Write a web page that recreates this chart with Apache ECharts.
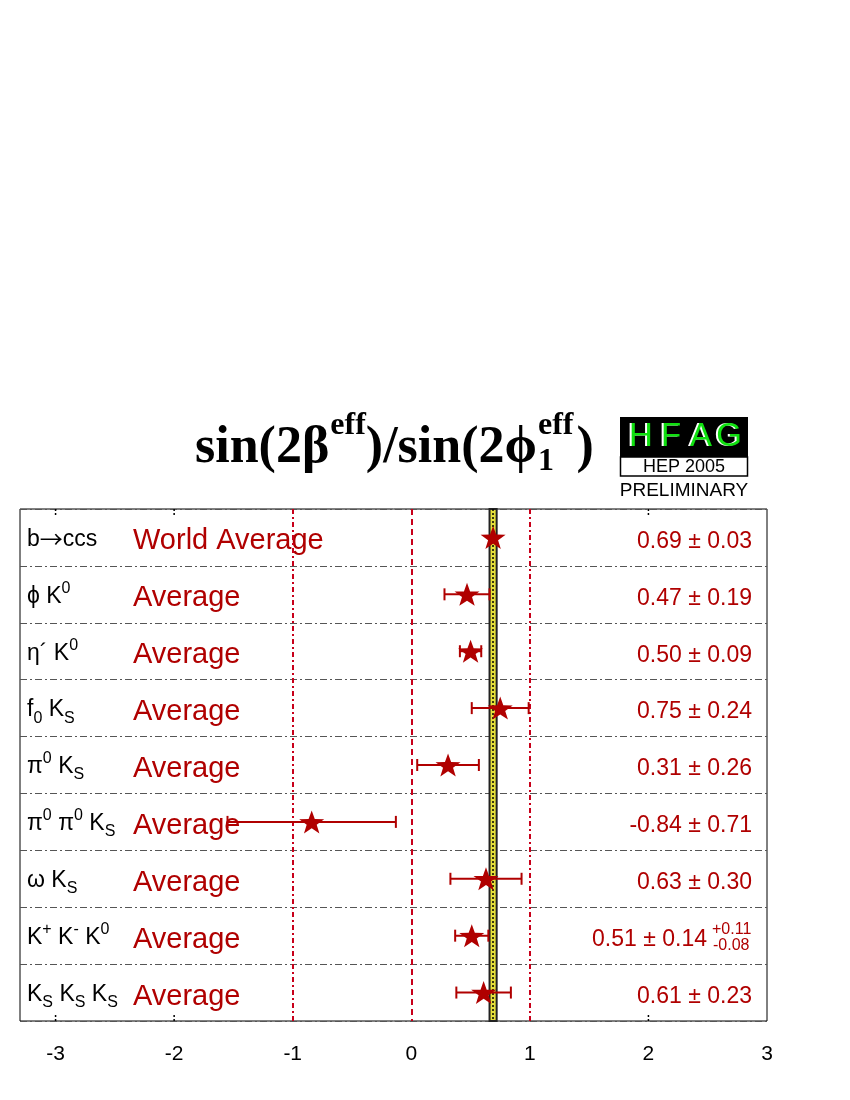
<!DOCTYPE html>
<html lang="en">
<head>
    <meta charset="UTF-8">
    <title>sin(2beta eff) / sin(2phi1 eff)</title>
    <script src="https://cdn.jsdelivr.net/npm/echarts@6.0.0/dist/echarts.min.js"></script>
    <style>
        body { margin: 0; padding: 0; background: #fff; }
        #chart { width: 850px; height: 1100px; }
    </style>
</head>
<body>
    <div id="chart"></div>
    <script>
        // decay modes, rich text tags: n = normal, sup / sub = scripts, arr = arrow
        const modes = [
            '{n|b}{arr|→}{n|ccs}',
            '{n|ϕ K}{sup|0}',
            '{n|η´ K}{sup|0}',
            '{n|f}{sub|0}{n| K}{sub|S}',
            '{n|π}{sup|0}{n| K}{sub|S}',
            '{n|π}{sup|0}{n| π}{sup|0}{n| K}{sub|S}',
            '{n|ω K}{sub|S}',
            '{n|K}{sup|+}{n| K}{sup|-}{n| K}{sup|0}',
            '{n|K}{sub|S}{n| K}{sub|S}{n| K}{sub|S}'
        ];
        const avgNames = ['World Average', 'Average', 'Average', 'Average', 'Average',
                          'Average', 'Average', 'Average', 'Average'];
        const centralValues = [0.69, 0.47, 0.50, 0.75, 0.31, -0.84, 0.63, 0.51, 0.61];
        const statErrors    = [0.03, 0.19, 0.09, 0.24, 0.26, 0.71, 0.30, 0.14, 0.23];
        const systUp   = [null, null, null, null, null, null, null, 0.11, null];
        const systDown = [null, null, null, null, null, null, null, 0.08, null];
        const xTickLabels = [-3, -2, -1, 0, 1, 2, 3];
        const frameTicks = [-3, -2, 2];
        const refLines = [-1, 0, 1];

        const RED = '#b00000';
        const FONT = '"Liberation Sans", Arial, sans-serif';
        const SERIF = '"Liberation Serif", "Times New Roman", serif';

        const worldAvg = centralValues[0];
        const worldErr = statErrors[0];

        // rich styles for the mode labels
        const richMode = {
            n:   { fontSize: 23, lineHeight: 32, fontFamily: FONT, fill: '#000', color: '#000' },
            arr: { fontSize: 23, lineHeight: 32, fontFamily: '"Noto Sans CJK JP", "DejaVu Sans", sans-serif', fill: '#000', color: '#000' },
            sup: { fontSize: 16, lineHeight: 16, verticalAlign: 'top', fontFamily: FONT, fill: '#000', color: '#000' },
            sub: { fontSize: 16, lineHeight: 16, verticalAlign: 'bottom', fontFamily: FONT, fill: '#000', color: '#000' }
        };

        function valueText(i) {
            return centralValues[i].toFixed(2) + ' \u00b1 ' + statErrors[i].toFixed(2);
        }

        function txt(text, x, y, font, fill, align) {
            return { type: 'text', style: { text: text, x: x, y: y, font: font, fill: fill,
                align: align, textAlign: align, verticalAlign: 'middle', textVerticalAlign: 'middle' } };
        }

        function renderTexts(params, api) {
            const i = api.value(0);
            const y = api.coord([0, i + 0.5])[1];
            const cs = params.coordSys;
            const right = cs.x + cs.width;
            const kids = [
                { type: 'text', style: { text: modes[i], x: cs.x + 7, y: y + 2, rich: richMode,
                    align: 'left', textAlign: 'left', verticalAlign: 'middle', textVerticalAlign: 'middle' } },
                txt(avgNames[i], cs.x + 113, y + 4, '29px ' + FONT, RED, 'left')
            ];
            if (systUp[i] != null) {
                kids.push(txt(valueText(i), right - 60, y + 4, '23px ' + FONT, RED, 'right'));
                kids.push(txt('+' + systUp[i].toFixed(2), right - 55, y - 6, '16px ' + FONT, RED, 'left'));
                kids.push(txt('-' + systDown[i].toFixed(2), right - 54, y + 10, '16px ' + FONT, RED, 'left'));
            } else {
                kids.push(txt(valueText(i), right - 15, y + 4, '23px ' + FONT, RED, 'right'));
            }
            return { type: 'group', children: kids };
        }

        function renderErrorBar(params, api) {
            const v = api.value(0), row = api.value(1), e = api.value(2);
            const lo = api.coord([v - e, row]);
            const hi = api.coord([v + e, row]);
            const cap = 6;
            const st = { stroke: RED, lineWidth: 2 };
            return {
                type: 'group',
                children: [
                    { type: 'line', shape: { x1: lo[0], y1: lo[1], x2: hi[0], y2: hi[1] }, style: st },
                    { type: 'line', shape: { x1: lo[0], y1: lo[1] - cap, x2: lo[0], y2: lo[1] + cap }, style: st },
                    { type: 'line', shape: { x1: hi[0], y1: hi[1] - cap, x2: hi[0], y2: hi[1] + cap }, style: st }
                ]
            };
        }

        // small dotted ticks on the top and bottom frame
        function renderFrameTick(params, api) {
            const x = api.coord([api.value(0), 0])[0];
            const cs = params.coordSys;
            const st = { stroke: '#000', lineWidth: 1.5, lineDash: [2, 2] };
            return {
                type: 'group',
                children: [
                    { type: 'line', shape: { x1: x, y1: cs.y, x2: x, y2: cs.y + 8 }, style: st },
                    { type: 'line', shape: { x1: x, y1: cs.y + cs.height, x2: x, y2: cs.y + cs.height - 8 }, style: st }
                ]
            };
        }

        // title layout, measured so the pieces sit next to each other
        const mctx = document.createElement('canvas').getContext('2d');
        function textW(t, font) { mctx.font = font; return mctx.measureText(t).width; }
        const bigF = 'bold 52px ' + SERIF;
        const smallF = 'bold 32px ' + SERIF;
        const tX = 195;
        const bigY = 466 - 0.34 * 52;
        const supY = 437 - 0.34 * 32;
        const subY = 473 - 0.34 * 32;
        const x1 = tX + textW('sin(2β', bigF) + 1;
        const x2 = x1 + textW('eff', smallF);
        const x3 = x2 + textW(')/sin(2ϕ', bigF) + 1;
        const x4 = x3 + Math.max(textW('eff', smallF), textW('1', smallF)) + 3;

        function tEl(text, x, y, font, fill, align) {
            return { type: 'text', x: x, y: y, style: { text: text, font: font, fill: fill || '#000',
                align: align || 'left', textAlign: align || 'left',
                verticalAlign: 'middle', textVerticalAlign: 'middle' } };
        }

        const hfagLetters = ['H', 'F', 'A', 'G'];
        const hfagX = [641, 671, 701, 729];
        const logo = [
            { type: 'rect', shape: { x: 620, y: 417, width: 128, height: 40 }, style: { fill: '#000' } },
            { type: 'rect', shape: { x: 620.5, y: 457, width: 127, height: 19 }, style: { fill: '#fff', stroke: '#000', lineWidth: 1.5 } }
        ];
        hfagLetters.forEach(function (l, k) {
            logo.push(tEl(l, hfagX[k] - 2, 437, '33px ' + FONT, '#fff', 'center'));
            logo.push(tEl(l, hfagX[k], 437, '33px ' + FONT, '#10e010', 'center'));
        });
        logo.push(tEl('HEP 2005', 684, 467, '18px ' + FONT, '#000', 'center'));
        logo.push(tEl('PRELIMINARY', 684, 491, '19px ' + FONT, '#000', 'center'));

        const chart = echarts.init(document.getElementById('chart'));
        chart.setOption({
            backgroundColor: '#fff',
            animation: false,
            grid: {
                left: 20, right: 83, top: 509, bottom: 79,
                show: true, borderColor: '#000', borderWidth: 1,
                outerBoundsMode: 'none'
            },
            xAxis: {
                type: 'value', min: -3.3, max: 3,
                axisLine: { show: false },
                splitLine: { show: false },
                axisTick: { show: false },
                axisLabel: { show: true, customValues: xTickLabels, margin: 23,
                    fontSize: 21, fontFamily: FONT, color: '#000' }
            },
            yAxis: {
                type: 'value', min: 0, max: 9, interval: 1, inverse: true,
                axisLine: { show: false }, axisTick: { show: false }, axisLabel: { show: false },
                splitLine: { show: true, lineStyle: { color: '#555', width: 1, type: [7, 3, 2, 3] } }
            },
            graphic: [
                tEl('sin(2β', tX, bigY, bigF),
                tEl('eff', x1, supY, smallF),
                tEl(')/sin(2ϕ', x2, bigY, bigF),
                tEl('eff', x3, supY, smallF),
                tEl('1', x3, subY, smallF),
                tEl(')', x4, bigY, bigF)
            ].concat(logo),
            series: [{
                type: 'scatter',
                silent: true,
                z: 2,
                data: [],
                markArea: {
                    silent: true,
                    itemStyle: { color: '#e6e03a', borderColor: '#222', borderWidth: 2, opacity: 1 },
                    data: [[{ xAxis: worldAvg - worldErr }, { xAxis: worldAvg + worldErr }]]
                },
                markLine: {
                    silent: true, symbol: 'none', label: { show: false },
                    data: refLines.map(function (v) {
                        return { xAxis: v, lineStyle: { color: '#c8001a', width: 2, opacity: 1,
                            type: v === 0 ? [6, 4] : [5, 3, 2, 3] } };
                    }).concat([{ xAxis: worldAvg, lineStyle: { color: '#000', width: 1.5, opacity: 1, type: [2, 2] } }])
                }
            }, {
                type: 'custom',
                silent: true,
                z: 3,
                renderItem: renderFrameTick,
                data: frameTicks.map(function (t) { return [t]; })
            }, {
                type: 'custom',
                silent: true,
                z: 5,
                renderItem: renderErrorBar,
                data: centralValues.map(function (v, i) { return [v, i + 0.5, statErrors[i]]; }).slice(1)
            }, {
                type: 'scatter',
                silent: true,
                z: 6,
                symbol: 'path://M0,-10 L2.351,-3.236 L9.511,-3.090 L3.804,1.236 L5.878,8.090 L0,4 L-5.878,8.090 L-3.804,1.236 L-9.511,-3.090 L-2.351,-3.236 Z',
                symbolSize: [25, 23],
                itemStyle: { color: RED, opacity: 1 },
                data: centralValues.map(function (v, i) { return [v, i + 0.5]; })
            }, {
                type: 'custom',
                silent: true,
                z: 4,
                renderItem: renderTexts,
                data: modes.map(function (m, i) { return [i]; })
            }]
        });
    </script>
</body>
</html>
